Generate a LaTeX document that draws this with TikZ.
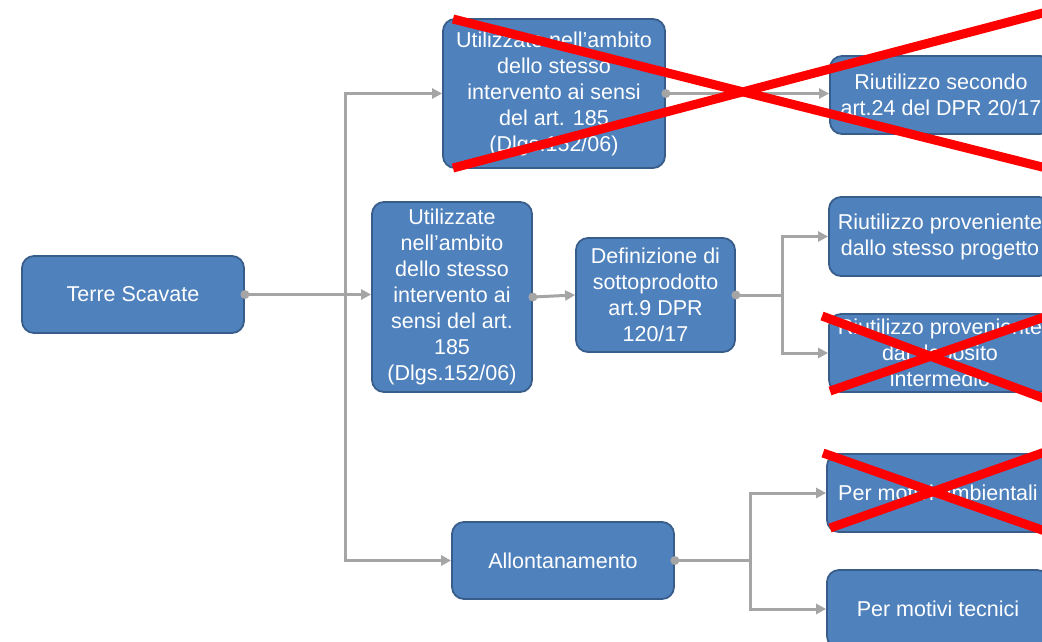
\documentclass[tikz,border=0pt]{standalone}
\usepackage{fontspec}
\setmainfont{Liberation Sans}
\usetikzlibrary{arrows.meta}
\definecolor{boxfill}{HTML}{4F81BD}
\definecolor{boxline}{HTML}{385D8A}
\definecolor{conngray}{HTML}{A5A5A5}
\definecolor{crossred}{HTML}{FF0000}
\tikzset{
  box/.style={draw=boxline, line width=1.8pt, fill=boxfill, rounded corners=12pt,
    text=white, align=center, inner sep=2pt,
    font=\fontsize{21.5}{26}\selectfont},
  conn/.style={draw=conngray, line width=3pt, line cap=rect},
  arr/.style={draw=conngray, line width=3pt, -{Triangle[length=10pt,width=10pt]}},
  dotmark/.style={fill=conngray, draw=none},
  cross/.style={draw=crossred, line width=9pt}
}
\begin{document}
\begin{tikzpicture}[x=1pt,y=-1pt]
\useasboundingbox (0,0) rectangle (1042,641);
\clip (0,0) rectangle (1042,641);
% nodes
\node[box, minimum width=222pt, minimum height=77pt] (ts) at (133,294.5) {Terre Scavate};
\node[box, minimum width=222pt, minimum height=149pt] (A) at (554,93.5)
  {Utilizzate nell’ambito\\dello stesso\\intervento ai sensi\\del art. 185\\(Dlgs.152/06)};
\node[box, minimum width=222pt, minimum height=78pt] (R1) at (941,95)
  {Riutilizzo secondo\\art.24 del DPR 20/17};
\node[box, minimum width=160pt, minimum height=190pt] (B) at (452,297)
  {Utilizzate\\nell’ambito\\dello stesso\\intervento ai\\sensi del art.\\185\\(Dlgs.152/06)};
\node[box, minimum width=159pt, minimum height=114pt] (C) at (655.5,295)
  {Definizione di\\sottoprodotto\\art.9 DPR\\120/17};
\node[box, minimum width=222pt, minimum height=79pt] (R2) at (940,236.5)
  {Riutilizzo proveniente\\dallo stesso progetto};
\node[box, minimum width=222pt, minimum height=78pt] (R3) at (940,353)
  {Riutilizzo proveniente\\dal deposito\\intermedio};
\node[box, minimum width=222pt, minimum height=77pt] (D) at (563,560.5) {Allontanamento};
\node[box, minimum width=222pt, minimum height=78pt] (R4) at (938,493) {Per motivi ambientali};
\node[box, minimum width=222pt, minimum height=78pt] (R5) at (938,609) {Per motivi tecnici};
% junction coordinates
\coordinate (j1) at (345,295);
\coordinate (j2) at (782,295);
\coordinate (j3) at (750,560.5);
% connectors
\draw[arr] (ts.east) -- (ts.east -| B.west);
\draw[conn] (j1 |- A.west) -- (j1 |- D.west);
\draw[arr] (j1 |- A.west) -- (A.west);
\draw[arr] (j1 |- D.west) -- (D.west);
\draw[arr] (A.east) -- (R1.west |- A.east);
\draw[arr] (B.east) -- (C.west);
\draw[conn] (C.east) -- (C.east -| j2);
\draw[conn] (j2 |- R2.west) -- (j2 |- R3.west);
\draw[arr] (j2 |- R2.west) -- (R2.west);
\draw[arr] (j2 |- R3.west) -- (R3.west);
\draw[conn] (D.east) -- (D.east -| j3);
\draw[conn] (j3 |- R4.west) -- (j3 |- R5.west);
\draw[arr] (j3 |- R4.west) -- (R4.west);
\draw[arr] (j3 |- R5.west) -- (R5.west);
% start dots
\foreach \n in {ts,A,B,C,D} { \fill[dotmark] (\n.east) circle (4.5pt); }
% red crosses
\draw[cross] (453,19) -- (1062,172);
\draw[cross] (453,168) -- (1062,8);
\draw[cross] (822,316) -- (1062,405);
\draw[cross] (830,391) -- (1062,311);
\draw[cross] (823,453) -- (1062,537);
\draw[cross] (830,528) -- (1062,446);
\end{tikzpicture}
\end{document}
